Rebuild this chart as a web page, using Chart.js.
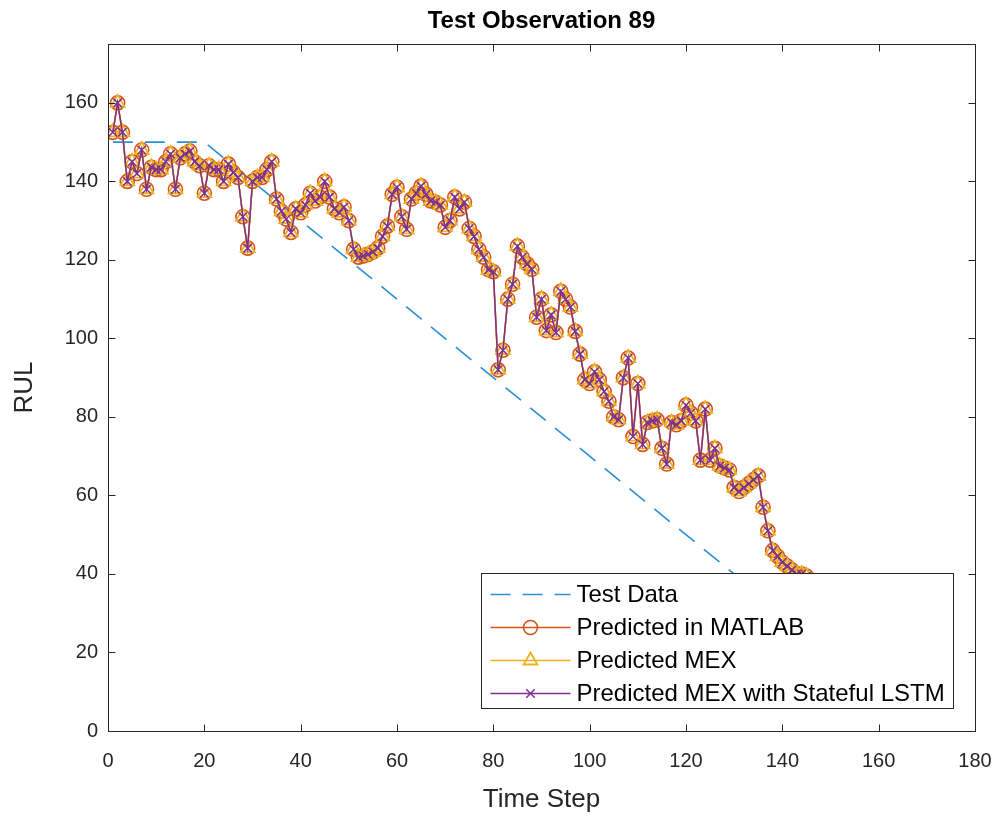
<!DOCTYPE html>
<html>
<head>
<meta charset="utf-8">
<script src="https://cdn.jsdelivr.net/npm/chart.js@4.4.1/dist/chart.umd.min.js"></script>
<style>
  html, body { margin: 0; padding: 0; background: #ffffff; }
  #wrap { width: 1000px; height: 817px; }
</style>
</head>
<body>
<div id="wrap"><canvas id="c" width="1000" height="817"></canvas></div>
<script>
// ---- data ----
const chartTitle = "Test Observation 89";
const xLabel = "Time Step";
const yLabel = "RUL";
const xTicks = [0, 20, 40, 60, 80, 100, 120, 140, 160, 180];
const yTicks = [0, 20, 40, 60, 80, 100, 120, 140, 160];

// Test data (true RUL): breakpoints of the dashed line
const testSteps = [1, 20, 150];
const testRul = [150, 150, 20];

// Predicted RUL, one value per time step starting at 1
const predMatlab = [
  152.5, 160, 152.5, 140, 145, 142, 148, 138, 143.6, 143,
  143, 145, 147, 138, 146, 147, 147.7, 145, 144, 137,
  144, 143, 143, 140, 144.4, 142.3, 141, 131, 123, 140,
  141, 141, 143, 145, 135.5, 132.4, 130.4, 127, 133, 132,
  134, 137, 135, 136, 140, 136, 133, 132, 133.5, 130,
  122.7, 120.7, 121, 121.4, 122, 123, 126, 128.6, 136.7, 138.5,
  131, 127.8, 135.5, 137, 138.8, 136.7, 135, 134.7, 134, 128.3,
  130, 136, 133, 134.7, 128, 126, 122.7, 120.7, 117.5, 117,
  92, 97, 110, 113.8, 123.5, 120.7, 119, 117.6, 105.4, 110,
  102, 106, 101.5, 112, 110, 108, 101.8, 96, 89.5, 88.5,
  91.5, 89.5, 86.5, 84, 80, 79.3, 90, 95, 75, 88.5,
  73, 78.6, 79, 79.3, 72, 68, 78.6, 78, 79, 83,
  81, 79, 69, 82, 69, 72, 67.5, 67, 66.5, 62,
  61, 62, 63, 64, 65, 57, 51, 46, 44.5, 43,
  42, 41, 40, 40, 39.5, 38, 37, 36, 35, 34
];
const predMex = [...predMatlab];
const predMexStateful = [...predMatlab];

const seriesNames = ["Test Data", "Predicted in MATLAB", "Predicted MEX", "Predicted MEX with Stateful LSTM"];

// ---- build library data ----
const toXY = (xs, ys) => ys.map((v, i) => ({ x: xs[i], y: v }));
const predSteps = predMatlab.map((_, i) => i + 1);

const FONT = "'Liberation Sans', Arial, Helvetica, sans-serif";
const AX = "#262626";

const titlePlugin = {
  id: 'axesTitle',
  afterDraw(chart) {
    const { ctx, chartArea: a } = chart;
    ctx.save();
    ctx.fillStyle = '#000000';
    ctx.font = 'bold 24px ' + FONT;
    ctx.textAlign = 'center';
    ctx.textBaseline = 'middle';
    ctx.fillText(chartTitle, (a.left + a.right) / 2, 21);
    ctx.restore();
  }
};

const boxAndTicks = {
  id: 'boxAndTicks',
  afterDatasetsDraw(chart) {
    const { ctx, chartArea: a, scales } = chart;
    ctx.save();
    ctx.strokeStyle = AX;
    ctx.lineWidth = 1;
    ctx.beginPath();
    const L = Math.round(a.left) + 0.5, R = Math.round(a.right) + 0.5;
    const T = Math.round(a.top) + 0.5, B = Math.round(a.bottom) + 0.5;
    ctx.rect(L, T, R - L, B - T);
    const tl = 7;
    xTicks.forEach(v => {
      const px = Math.round(scales.x.getPixelForValue(v)) + 0.5;
      ctx.moveTo(px, B); ctx.lineTo(px, B - tl);
      ctx.moveTo(px, T); ctx.lineTo(px, T + tl);
    });
    yTicks.forEach(v => {
      const py = Math.round(scales.y.getPixelForValue(v)) + 0.5;
      ctx.moveTo(L, py); ctx.lineTo(L + tl, py);
      ctx.moveTo(R, py); ctx.lineTo(R - tl, py);
    });
    ctx.stroke();
    ctx.restore();
  }
};

function drawMarker(ctx, style, x, y, r, color, lw) {
  ctx.save();
  ctx.strokeStyle = color;
  ctx.lineWidth = lw;
  ctx.beginPath();
  if (style === 'circle') {
    ctx.arc(x, y, r, 0, Math.PI * 2);
  } else if (style === 'triangle') {
    const s = r;
    ctx.moveTo(x, y - s);
    ctx.lineTo(x + s * 0.866, y + s * 0.5);
    ctx.lineTo(x - s * 0.866, y + s * 0.5);
    ctx.closePath();
  } else if (style === 'crossRot') {
    const d = r * 0.7071;
    ctx.moveTo(x - d, y - d); ctx.lineTo(x + d, y + d);
    ctx.moveTo(x + d, y - d); ctx.lineTo(x - d, y + d);
  }
  ctx.stroke();
  ctx.restore();
}

const matlabLegend = {
  id: 'matlabLegend',
  afterDraw(chart) {
    const { ctx, chartArea: a } = chart;
    const w = 472, h = 135;
    const x0 = Math.round(a.right - 22 - w) + 0.5;
    const y0 = Math.round(a.bottom - 23 - h) + 0.5;
    ctx.save();
    ctx.fillStyle = '#ffffff';
    ctx.fillRect(x0, y0, w, h);
    ctx.strokeStyle = AX;
    ctx.lineWidth = 1;
    ctx.strokeRect(x0, y0, w, h);
    const ds = chart.data.datasets;
    ds.forEach((d, i) => {
      const cy = y0 + 21 + i * 33;
      ctx.save();
      ctx.strokeStyle = d.borderColor;
      ctx.lineWidth = d.borderWidth;
      ctx.setLineDash(d.borderDash || []);
      ctx.beginPath();
      ctx.moveTo(x0 + 9, cy);
      ctx.lineTo(x0 + 89, cy);
      ctx.stroke();
      ctx.restore();
      if (d.pointRadius > 0) {
        drawMarker(ctx, d.pointStyle, x0 + 49, cy, d.pointRadius, d.pointBorderColor, d.pointBorderWidth);
      }
      ctx.fillStyle = '#000000';
      ctx.font = '24px ' + FONT;
      ctx.textBaseline = 'middle';
      ctx.textAlign = 'left';
      ctx.fillText(d.label, x0 + 95, cy + 1);
    });
    ctx.restore();
  }
};

const chart = new Chart(document.getElementById('c'), {
  type: 'line',
  data: {
    datasets: [
      {
        label: seriesNames[0],
        data: toXY(testSteps, testRul),
        borderColor: '#2a8fd4',
        borderWidth: 1.6,
        borderDash: [20, 12],
        pointRadius: 0,
        fill: false,
        tension: 0,
        order: 4
      },
      {
        label: seriesNames[1],
        data: toXY(predSteps, predMatlab),
        borderColor: '#D95319',
        borderWidth: 1.5,
        pointStyle: 'circle',
        pointRadius: 7,
        pointBorderColor: '#D95319',
        pointBackgroundColor: 'rgba(0,0,0,0)',
        pointBorderWidth: 1.6,
        fill: false,
        tension: 0,
        order: 3
      },
      {
        label: seriesNames[2],
        data: toXY(predSteps, predMex),
        borderColor: '#EDB120',
        borderWidth: 1.5,
        pointStyle: 'triangle',
        pointRadius: 8,
        pointBorderColor: '#EDB120',
        pointBackgroundColor: 'rgba(0,0,0,0)',
        pointBorderWidth: 1.8,
        fill: false,
        tension: 0,
        order: 2
      },
      {
        label: seriesNames[3],
        data: toXY(predSteps, predMexStateful),
        borderColor: '#7E2F8E',
        borderWidth: 1.5,
        pointStyle: 'crossRot',
        pointRadius: 6,
        pointBorderColor: '#7E2F8E',
        pointBackgroundColor: 'rgba(0,0,0,0)',
        pointBorderWidth: 1.5,
        fill: false,
        tension: 0,
        order: 1
      }
    ]
  },
  options: {
    responsive: false,
    animation: false,
    devicePixelRatio: 1,
    layout: { padding: { left: 0, right: 25, top: 44, bottom: 0 } },
    plugins: {
      legend: { display: false },
      tooltip: { enabled: false },
      title: { display: false }
    },
    scales: {
      x: {
        type: 'linear',
        min: 0,
        max: 180,
        afterBuildTicks: s => { s.ticks = xTicks.map(v => ({ value: v })); },
        afterFit: s => { s.height = 86; s.paddingLeft = 0; s.paddingRight = 0; },
        ticks: { color: AX, font: { family: FONT, size: 20 }, padding: 18, maxRotation: 0 },
        grid: { display: false, drawTicks: false },
        border: { display: false },
        title: { display: true, text: xLabel, color: AX, font: { family: FONT, size: 26 }, padding: { top: 0, bottom: 2 } }
      },
      y: {
        type: 'linear',
        min: 0,
        max: 175,
        afterBuildTicks: s => { s.ticks = yTicks.map(v => ({ value: v })); },
        afterFit: s => { s.width = 108; s.paddingTop = 0; s.paddingBottom = 0; },
        ticks: { color: AX, font: { family: FONT, size: 20 }, padding: 10 },
        grid: { display: false, drawTicks: false },
        border: { display: false },
        title: { display: true, text: yLabel, color: AX, font: { family: FONT, size: 26 }, padding: { top: 9, bottom: 0 } }
      }
    }
  },
  plugins: [boxAndTicks, matlabLegend, titlePlugin]
});
</script>
</body>
</html>
